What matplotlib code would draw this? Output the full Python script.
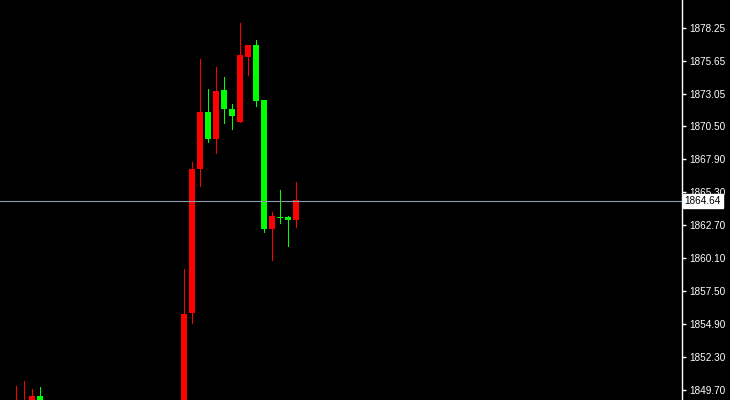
import numpy as np
import matplotlib
matplotlib.use("Agg")
import matplotlib.pyplot as plt

nan = np.nan

# OHLC; bars 4-20 lie below the visible range
opens = [1847.8, 1848.0, 1848.5, 1849.23] + [nan] * 17 + [
    1848.0, 1855.77, 1867.13, 1871.63, 1869.50, 1873.36, 1871.86, 1870.84,
    1875.96, 1876.91, 1872.57, 1862.40, 1863.34, 1863.34, 1863.11]
closes = [1848.6, 1848.7, 1849.23, 1848.6] + [nan] * 17 + [
    1855.69, 1867.13, 1871.63, 1869.50, 1873.28, 1871.86, 1871.31, 1876.12,
    1876.91, 1872.49, 1862.40, 1863.42, 1863.34, 1863.11, 1864.69]
highs = [1850.02, 1850.41, 1849.78, 1849.94] + [nan] * 17 + [
    1859.24, 1867.68, 1875.81, 1873.44, 1875.17, 1874.39, 1872.26, 1878.64,
    1876.91, 1877.30, 1872.57, 1863.74, 1865.47, 1863.42, 1866.10]
lows = [1847.3, 1847.6, 1848.5, 1848.4] + [nan] * 17 + [
    1847.5, 1854.98, 1865.79, 1869.26, 1868.39, 1870.76, 1870.28, 1870.84,
    1874.54, 1872.10, 1862.16, 1859.95, 1862.87, 1861.06, 1862.56]

last_price = 1864.64
price_ticks = [1849.70, 1852.30, 1854.90, 1857.50, 1860.10, 1862.70,
               1865.30, 1867.90, 1870.50, 1873.05, 1875.65, 1878.25]

o = np.array(opens); c = np.array(closes)
h = np.array(highs); l = np.array(lows)
x = np.arange(len(o))
cols = np.where(c >= o, '#ff0000', '#00ff00')
cols[o == c] = '#00ff00'

fig = plt.figure(figsize=(7.3, 4.0), dpi=100, facecolor='black')
ax = fig.add_axes([0, 0, 682 / 730, 1])
ax.set_facecolor('black')

# wicks 1px, bodies 5px wide
ax.vlines(x, l, h, colors=cols, linewidth=0.72, antialiased=False)
body = ax.vlines(x, np.minimum(o, c), np.maximum(o, c), colors=cols,
                 linewidth=4.0, antialiased=False)
body.set_capstyle('butt')
doji = (o == c)
ax.hlines(o[doji], x[doji] - 0.31, x[doji] + 0.31, colors='#00ff00',
          linewidth=0.72, antialiased=False)

ax.axhline(last_price, color='#8a9bb0', linewidth=0.8)

ax.set_xlim(-1.9375, -1.9375 + 682 / 8)
ax.set_ylim(1848.91, 1880.46)

for s in ['top', 'left', 'bottom']:
    ax.spines[s].set_visible(False)
ax.spines['right'].set_color('white')
ax.spines['right'].set_linewidth(1)
ax.set_xticks([])
ax.yaxis.tick_right()
ax.set_yticks(price_ticks)
ax.set_yticklabels(['%.2f' % t for t in price_ticks])
ax.tick_params(axis='y', colors='white', length=3, width=1, pad=2,
               labelsize=7.2)
for lab in ax.get_yticklabels():
    lab.set_family('Liberation Sans')

ax.text(1.004, last_price, '%.2f' % last_price, transform=ax.get_yaxis_transform(),
        ha='left', va='center', fontsize=7.2, family='Liberation Sans', color='black',
        zorder=10, clip_on=False,
        bbox=dict(boxstyle='square,pad=0.2', facecolor='white', edgecolor='white'))

fig.savefig('out.png', dpi=100, facecolor='black')
